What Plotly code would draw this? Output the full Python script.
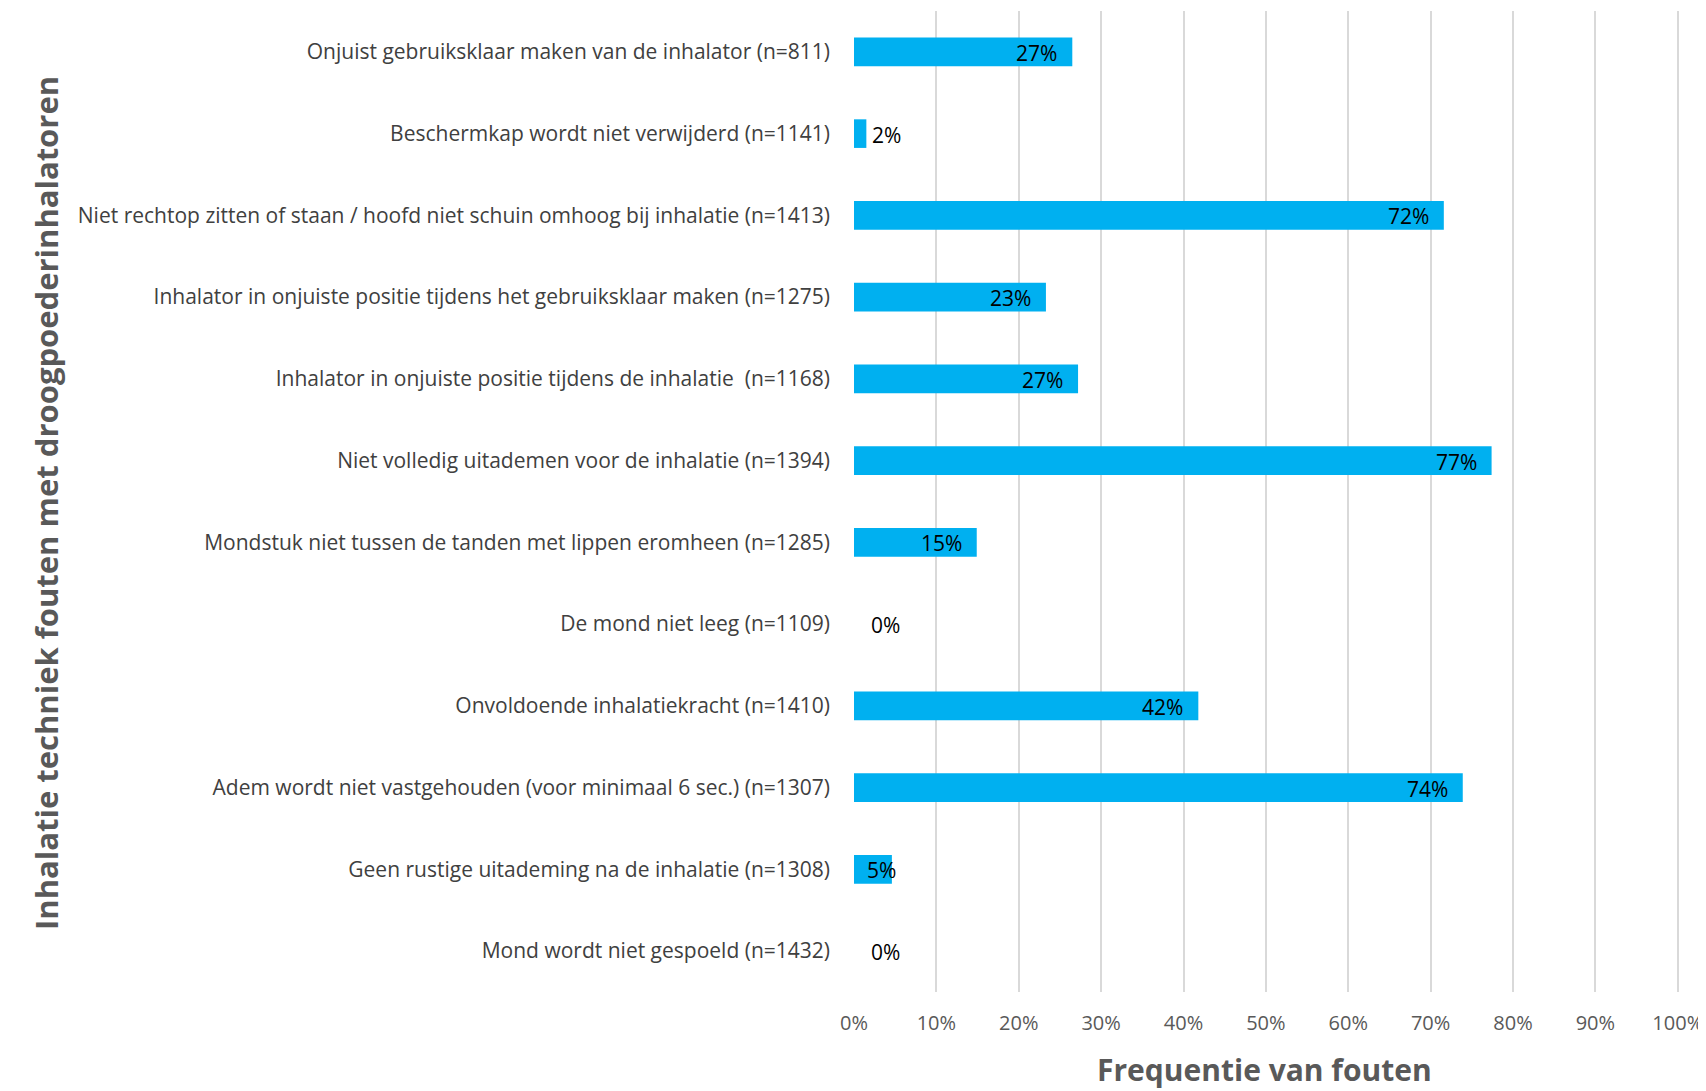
import plotly.graph_objects as go

categories = [
    "Onjuist gebruiksklaar maken van de inhalator (n=811)",
    "Beschermkap wordt niet verwijderd (n=1141)",
    "Niet rechtop zitten of staan / hoofd niet schuin omhoog bij inhalatie (n=1413)",
    "Inhalator in onjuiste positie tijdens het gebruiksklaar maken (n=1275)",
    "Inhalator in onjuiste positie tijdens de inhalatie  (n=1168)",
    "Niet volledig uitademen voor de inhalatie (n=1394)",
    "Mondstuk niet tussen de tanden met lippen eromheen (n=1285)",
    "De mond niet leeg (n=1109)",
    "Onvoldoende inhalatiekracht (n=1410)",
    "Adem wordt niet vastgehouden (voor minimaal 6 sec.) (n=1307)",
    "Geen rustige uitademing na de inhalatie (n=1308)",
    "Mond wordt niet gespoeld (n=1432)",
]
values = [26.5, 1.5, 71.6, 23.3, 27.2, 77.4, 14.9, 0.0, 41.8, 73.9, 4.6, 0.0]
labels = ["27%", "2%", "72%", "23%", "27%", "77%", "15%", "0%", "42%", "74%", "5%", "0%"]
tick_vals = [0, 10, 20, 30, 40, 50, 60, 70, 80, 90, 100]
tick_text = ["0%", "10%", "20%", "30%", "40%", "50%", "60%", "70%", "80%", "90%", "100%"]

# page is offset by the browser's default 8px body margin
OFF = 8
W, H = 1706 - OFF, 1091 - OFF
L, R, T, B = 854 - OFF, 24, 11 - OFF, 99
pw = W - L - R
ph = H - T - B
XMAX = 100.15

fig = go.Figure()
fig.add_trace(go.Bar(
    y=categories, x=values, orientation="h",
    marker=dict(color="#00B0F0", line=dict(width=0)),
    width=0.35, hoverinfo="skip",
))

lab_font = dict(family="Open Sans", size=21, color="#000000")
annotations = []
for cat, v, lab in zip(categories, values, labels):
    px = v / XMAX * pw
    if px < 20:
        annotations.append(dict(x=v, y=cat, xref="x", yref="y", text=lab,
                                xanchor="left", yanchor="middle", showarrow=False,
                                xshift=max(4, 15 - px), yshift=-1, font=lab_font))
    elif px < 60:
        annotations.append(dict(x=v, y=cat, xref="x", yref="y", text=lab,
                                xanchor="right", yanchor="middle", showarrow=False,
                                xshift=6, yshift=-1, font=lab_font))
    else:
        annotations.append(dict(x=v, y=cat, xref="x", yref="y", text=lab,
                                xanchor="right", yanchor="middle", showarrow=False,
                                xshift=-13, yshift=-1, font=lab_font))

annotations += [
    dict(
        text="<b>Inhalatie techniek fouten met droogpoederinhalatoren</b>",
        xref="paper", yref="paper",
        x=(43 - OFF - L) / pw, y=(H - B - (503 - OFF)) / ph,
        xanchor="center", yanchor="middle", textangle=-90, showarrow=False,
        font=dict(family="Open Sans", size=31, color="#595959"),
    ),
    dict(
        text="<b>Frequentie van fouten</b>",
        xref="paper", yref="paper",
        x=(1266 - OFF - L) / pw, y=(H - B - (1069 - OFF)) / ph,
        xanchor="center", yanchor="middle", showarrow=False,
        font=dict(family="Open Sans", size=30, color="#595959"),
    ),
]

fig.update_layout(
    width=W, height=H,
    margin=dict(l=L, r=R, t=T, b=B),
    paper_bgcolor="white", plot_bgcolor="white",
    showlegend=False,
    font=dict(family="Open Sans", color="#404040"),
    xaxis=dict(
        range=[0, XMAX], tickvals=tick_vals, ticktext=tick_text,
        showgrid=True, gridcolor="#D9D9D9", gridwidth=2,
        zeroline=False, showline=False,
        ticks="outside", ticklen=13, tickcolor="rgba(0,0,0,0)", tickwidth=1,
        tickfont=dict(family="Open Sans", size=20, color="#595959"),
        ticklabeloverflow="allow",
        fixedrange=True,
    ),
    yaxis=dict(
        categoryorder="array", categoryarray=categories[::-1],
        autorange=False, range=[-0.5, len(categories) - 0.5],
        showgrid=False, zeroline=False, showline=False, ticks="",
        tickfont=dict(family="Open Sans", size=21, color="#404040"),
        ticklabelstandoff=23,
    ),
    annotations=annotations,
)

fig.write_html("out.html")
